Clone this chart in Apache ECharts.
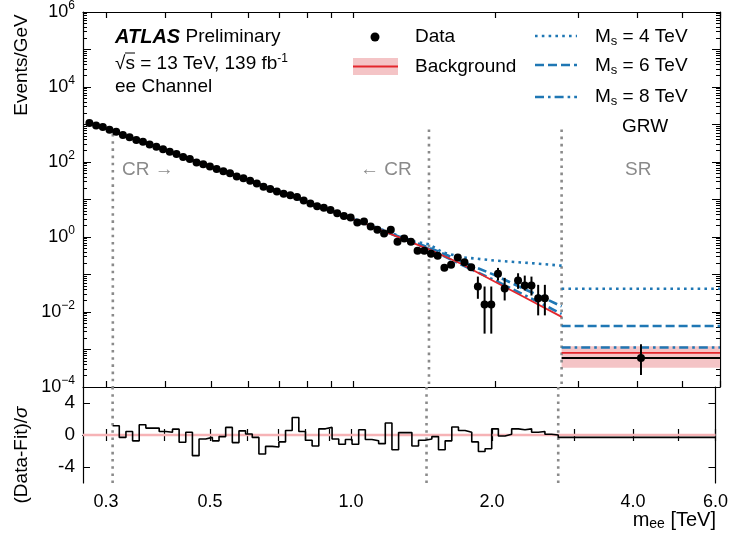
<!DOCTYPE html>
<html>
<head>
<meta charset="utf-8">
<title>ee Channel</title>
<script src="https://cdn.jsdelivr.net/npm/echarts@6/dist/echarts.min.js"></script>
<style>
html, body { margin: 0; padding: 0; background: #fff; }
#main { width: 731px; height: 536px; }
</style>
</head>
<body>
<div id="main"></div>
<script>
// bin centres in TeV (4 bins below the CR, then CR + VR bins)
var binMass = [0.2765, 0.2857, 0.2952, 0.3050,
  0.3151, 0.3256, 0.3364, 0.3476, 0.3591, 0.3710, 0.3834, 0.3961, 0.4093, 0.4229,
  0.4369, 0.4514, 0.4664, 0.4819, 0.4979, 0.5145, 0.5316, 0.5492, 0.5675, 0.5863,
  0.6058, 0.6259, 0.6467, 0.6682, 0.6904, 0.7134, 0.7371, 0.7616, 0.7869, 0.8130,
  0.8400, 0.8680, 0.8968, 0.9266, 0.9574, 0.9892, 1.0221, 1.0560, 1.0911, 1.1274,
  1.1648, 1.2035, 1.2435, 1.2848, 1.3275, 1.3716, 1.4172, 1.4643, 1.5130, 1.5633,
  1.6152, 1.6689, 1.7243, 1.7816, 1.8408, 1.9020, 1.9652, 2.0305, 2.0980, 2.1677,
  2.2397, 2.3141, 2.3910, 2.4705, 2.5526, 2.6374, 2.7250];
// events / GeV
var dataVals = [1089, 946, 853, 728,
  640, 522, 458, 386, 345, 295, 254, 218, 188, 164,
  135, 120, 96.5, 87.5, 75.8, 64.6, 56.5, 50.2, 41.3, 37.0,
  31.5, 26.7, 21.8, 19.1, 16.3, 14.3, 12.9, 11.6, 9.45, 7.87,
  6.58, 6.05, 5.26, 4.28, 3.65, 3.29, 2.43, 2.58, 1.90, 1.55,
  1.24, 1.55, 0.746, 0.912, 0.746, 0.431, 0.431, 0.358, 0.317, 0.152,
  0.183, 0.286, 0.211, 0.155, 0.0478, 0.0159, 0.0159, 0.104, 0.0423, null,
  0.0689, 0.0508, 0.0508, 0.0234, 0.0234, null, null];
// (Data-Fit)/sigma for the CR + VR bins
var ratioVals = [1.16, -0.3, 0.43, -0.73, 1.29, 0.86, 0.86, 0.43, 0.34, 0.73,
  -0.9, 0.34, -2.58, -0.5, -0.3, -0.73, -0.2, 0.95, -0.95, 0.52,
  0.13, -0.3, -2.37, -1.42, -1.5, -0.86, 0.56, 2.19, 0.43, -0.65,
  -1.38, 0.77, 0.95, -0.5, -1.16, -0.56, -1.16, 0.65, -0.56, -0.73,
  -1.08, 1.5, -1.85, 0.3, 0.3, -1.38, -0.65, -0.5, -0.2, -1.85,
  -0.73, 1.0, 0.56, 0.34, -0.86, -2.06, -1.72, 0.77, -0.13, 0.09,
  0.77, 0.65, 0.77, 0.34, 0.43, 0.09, 0.0];

// visible error bars in the tail
var errMass = [1.8408, 1.9020, 1.9652, 2.0305, 2.0980, 2.2397, 2.3141, 2.3910, 2.4705, 2.5526];
var errLo = [0.0225, 0.00265, 0.00265, 0.0689, 0.0203, 0.0415, 0.0374, 0.0275, 0.00813, 0.00813];
var errHi = [0.0879, 0.0478, 0.0478, 0.150, 0.0813, 0.108, 0.0935, 0.0879, 0.053, 0.053];

// background fit
var bkgMass = [0.31, 0.40, 0.50, 0.60, 0.75, 0.90, 1.10, 1.30, 1.45, 1.70, 2.00, 2.30, 2.77];
var bkgVals = [656, 207, 75.3, 32.7, 11.6, 5.01, 1.89, 0.817, 0.47, 0.190, 0.0638, 0.0254, 0.00743];
// GRW signal + background
var sig4Mass = [0.31, 0.50, 0.75, 1.00, 1.20, 1.35, 1.45, 1.55, 1.70, 2.00, 2.40, 2.77];
var sig4Vals = [656, 75.5, 11.7, 3.15, 1.30, 0.76, 0.64, 0.39, 0.29, 0.235, 0.20, 0.172];
var sig6Mass = [0.31, 0.50, 0.75, 1.00, 1.20, 1.45, 1.60, 1.80, 2.00, 2.30, 2.55, 2.77];
var sig6Vals = [656, 75.4, 11.65, 3.05, 1.25, 0.52, 0.31, 0.166, 0.096, 0.042, 0.0231, 0.0141];
var sig8Mass = [0.31, 0.50, 0.75, 1.00, 1.20, 1.45, 1.80, 2.00, 2.30, 2.77];
var sig8Vals = [656, 75.3, 11.6, 3.03, 1.23, 0.48, 0.129, 0.070, 0.0292, 0.0089];

// signal region: one bin
var srEdges = [2.77, 6.0];
var srDataMass = 4.08, srData = 0.000589, srDataLo = 0.000209, srDataHi = 0.00138;
var srBkg = 0.000813, srBandLo = 0.000325, srBandHi = 0.00122;
var srSig = [0.0415, 0.00423, 0.00113];
var srRatio = -0.3;

// region boundaries and axis ticks
var regionEdges = [0.31, 1.45, 2.77];
var regionTops = [560, 740, 740];
var xLabelVals = [0.3, 0.5, 1.0, 2.0, 4.0, 6.0];
var xTickVals = [0.3, 0.4, 0.5, 0.6, 0.7, 0.8, 0.9, 1, 2, 3, 4, 5, 6];
var yLabelVals = [1e-4, 1e-2, 1, 1e2, 1e4, 1e6];
var ratioTicks = [-4, 0, 4];

var FONT = 'Liberation Sans, Arial, sans-serif';
var BLUE = '#1f77b4', RED = '#e3262c', PINK = '#f4c4c6', GREY = '#8a8a8a';

var yDecades = [], yMinor = [];
for (var e = -4; e <= 6; e++) {
  yDecades.push(Math.pow(10, e));
  if (e < 6) for (var m = 2; m <= 9; m++) yMinor.push(m * Math.pow(10, e));
}

function pairs(xs, ys) {
  var out = [];
  for (var i = 0; i < xs.length; i++) if (ys[i] != null) out.push([xs[i], ys[i]]);
  return out;
}

// step histogram for the ratio panel
var ratioEdges = [regionEdges[0]];
var crMass = binMass.slice(4);
for (var i = 0; i < crMass.length - 1; i++) ratioEdges.push(Math.sqrt(crMass[i] * crMass[i + 1]));
var ratioStep = [];
for (var i = 0; i < ratioVals.length; i++) ratioStep.push([ratioEdges[i], ratioVals[i]]);
ratioStep.push([srEdges[0], srRatio], [srEdges[1], srRatio]);

var errData = [];
for (var i = 0; i < errMass.length; i++) errData.push([errMass[i], errLo[i], errHi[i]]);
errData.push([srDataMass, srDataLo, srDataHi]);

function logXAxis(grid, pos, labels) {
  return {
    gridIndex: grid, type: 'log', logBase: 10, min: 0.268, max: 6.0, position: pos,
    axisLine: { lineStyle: { color: '#000', width: 1.2 } },
    axisTick: { inside: true, length: 6, customValues: xTickVals, lineStyle: { color: '#000', width: 1.2 } },
    axisLabel: labels ? {
      customValues: xLabelVals, color: '#000', fontSize: 18, fontFamily: FONT, margin: 10,
      formatter: function (v) { return Number(v).toFixed(1); }
    } : { show: false },
    splitLine: { show: false }
  };
}
function logYAxis(pos, ticks, len, line, labels) {
  return {
    gridIndex: 0, type: 'log', logBase: 10, min: 1e-4, max: 1e6, position: pos,
    axisLine: { show: line, lineStyle: { color: '#000', width: 1.2 } },
    axisTick: { inside: true, length: len, customValues: ticks, lineStyle: { color: '#000', width: 1 } },
    axisLabel: labels ? {
      customValues: yLabelVals, color: '#000', margin: 8,
      formatter: function (v) {
        var p = Math.round(Math.log10(v));
        return '{b|10}{s|' + (p < 0 ? '\u2212' + (-p) : p) + '}';
      },
      rich: {
        b: { fontSize: 18, fontFamily: FONT, color: '#000' },
        s: { fontSize: 12, fontFamily: FONT, color: '#000', padding: [0, 0, 12, 0] }
      }
    } : { show: false },
    splitLine: { show: false }
  };
}
function ratioYAxis(pos, labels) {
  return {
    gridIndex: 1, type: 'value', min: -6, max: 6, position: pos,
    axisLine: { lineStyle: { color: '#000', width: 1.2 } },
    axisTick: { inside: true, length: 7, customValues: ratioTicks, lineStyle: { color: '#000' } },
    axisLabel: labels ? { customValues: ratioTicks, color: '#000', fontSize: 19, fontFamily: FONT, margin: 8 } : { show: false },
    splitLine: { show: false }
  };
}

function errRender(params, api) {
  var a = api.coord([api.value(0), api.value(1)]);
  var b = api.coord([api.value(0), api.value(2)]);
  return { type: 'line', shape: { x1: a[0], y1: a[1], x2: b[0], y2: b[1] }, style: { stroke: '#000', lineWidth: 2 } };
}
function bandRender(params, api) {
  var a = api.coord([api.value(0), api.value(3)]);
  var b = api.coord([api.value(1), api.value(2)]);
  return { type: 'rect', shape: { x: a[0], y: a[1], width: b[0] - a[0], height: b[1] - a[1] }, style: { fill: PINK } };
}

function sigLine(name, xs, ys, srVal, dash) {
  var st = { color: BLUE, width: 2.6, type: dash, cap: 'butt' };
  return [{
    name: name, type: 'line', xAxisIndex: 0, yAxisIndex: 0, data: pairs(xs, ys),
    showSymbol: false, lineStyle: st, z: 3
  }, {
    name: name + ' SR', type: 'line', xAxisIndex: 0, yAxisIndex: 0, data: [[srEdges[0], srVal], [srEdges[1], srVal]],
    showSymbol: false, lineStyle: st, z: 3
  }];
}

var series = [];
// SR background band
series.push({ type: 'custom', xAxisIndex: 0, yAxisIndex: 0, renderItem: bandRender,
  data: [[srEdges[0], srEdges[1], srBandLo, srBandHi]], encode: { x: [0, 1], y: [2, 3] }, z: 1 });
// region boundaries
for (var i = 0; i < regionEdges.length; i++) {
  series.push({ type: 'line', xAxisIndex: 0, yAxisIndex: 0, showSymbol: false, z: 2,
    data: [[regionEdges[i], regionTops[i]], [regionEdges[i], 1e-4]],
    lineStyle: { color: GREY, width: 2.6, type: [2.6, 4.6] } });
  series.push({ type: 'line', xAxisIndex: 2, yAxisIndex: 4, showSymbol: false, z: 2,
    data: [[regionEdges[i], 6], [regionEdges[i], -6]],
    lineStyle: { color: GREY, width: 2.6, type: [2.6, 4.6] } });
}
series = series.concat(sigLine('Ms4', sig4Mass, sig4Vals, srSig[0], [2.6, 4.2]));
series = series.concat(sigLine('Ms6', sig6Mass, sig6Vals, srSig[1], [9, 4]));
series = series.concat(sigLine('Ms8', sig8Mass, sig8Vals, srSig[2], [9, 4, 2.6, 4]));
// background
series.push({ type: 'line', xAxisIndex: 0, yAxisIndex: 0, data: pairs(bkgMass, bkgVals), showSymbol: false,
  lineStyle: { color: RED, width: 1.8 }, z: 4 });
series.push({ type: 'line', xAxisIndex: 0, yAxisIndex: 0, data: [[srEdges[0], srBkg], [srEdges[1], srBkg]], showSymbol: false,
  lineStyle: { color: RED, width: 1.8 }, z: 4 });
// data
series.push({ type: 'line', xAxisIndex: 0, yAxisIndex: 0, data: [[srEdges[0], srData], [srEdges[1], srData]], showSymbol: false,
  lineStyle: { color: '#000', width: 2 }, z: 5 });
series.push({ type: 'custom', xAxisIndex: 0, yAxisIndex: 0, renderItem: errRender, data: errData,
  encode: { x: 0, y: [1, 2] }, z: 5 });
series.push({ type: 'scatter', xAxisIndex: 0, yAxisIndex: 0, symbolSize: 8,
  data: pairs(binMass, dataVals).concat([[srDataMass, srData]]), itemStyle: { color: '#000', opacity: 1 }, z: 6 });
// ratio panel
series.push({ type: 'line', xAxisIndex: 2, yAxisIndex: 4, data: [[0.268, 0], [6.0, 0]], showSymbol: false,
  lineStyle: { color: '#f6b3b6', width: 2.5 }, z: 2 });
series.push({ type: 'line', xAxisIndex: 2, yAxisIndex: 4, data: ratioStep, step: 'end', showSymbol: false,
  lineStyle: { color: '#000', width: 1.6 }, z: 5 });

function txt(x, y, text, extra) {
  var st = { text: text, x: x, y: y, font: '19px ' + FONT, fill: '#000', verticalAlign: 'middle' };
  for (var k in extra) st[k] = extra[k];
  return { type: 'text', style: st, z: 100 };
}
function legLine(y, dash) {
  return { type: 'line', shape: { x1: 535, y1: y, x2: 577, y2: y }, style: { stroke: BLUE, lineWidth: 2.6, lineDash: dash }, z: 100 };
}
var msRich = { n: { fontSize: 19, fontFamily: FONT }, s: { fontSize: 13, fontFamily: FONT, padding: [8, 0, 0, 0] } };

var option = {
  animation: false,
  backgroundColor: '#fff',
  grid: [
    { left: 83, right: 11, top: 10, height: 377 },
    { left: 83, right: 11, top: 387, height: 96 }
  ],
  xAxis: [logXAxis(0, 'bottom', false), logXAxis(0, 'top', false), logXAxis(1, 'bottom', true), logXAxis(1, 'top', false)],
  yAxis: [
    logYAxis('left', yDecades, 8, true, true),
    logYAxis('left', yMinor, 4, false, false),
    logYAxis('right', yDecades, 8, true, false),
    logYAxis('right', yMinor, 4, false, false),
    ratioYAxis('left', true),
    ratioYAxis('right', false)
  ],
  series: series,
  graphic: [
    txt(115, 37, '{b|ATLAS} {n|Preliminary}', { rich: {
      b: { fontSize: 20, fontWeight: 'bold', fontStyle: 'italic', fontFamily: FONT },
      n: { fontSize: 19, fontFamily: FONT } } }),
    txt(115, 64, '{n|\u221As = 13 TeV, 139 fb}{s|-1}', { rich: {
      n: { fontSize: 19, fontFamily: FONT }, s: { fontSize: 12, fontFamily: FONT, padding: [0, 0, 10, 0] } } }),
    { type: 'line', shape: { x1: 125, y1: 53, x2: 135, y2: 53 }, style: { stroke: '#000', lineWidth: 1 }, z: 100 },
    txt(115, 87, 'ee Channel'),
    { type: 'circle', shape: { cx: 375, cy: 37, r: 4.5 }, style: { fill: '#000' }, z: 100 },
    txt(415, 37, 'Data'),
    { type: 'rect', shape: { x: 353, y: 58, width: 45, height: 17 }, style: { fill: PINK }, z: 100 },
    { type: 'line', shape: { x1: 353, y1: 66.5, x2: 398, y2: 66.5 }, style: { stroke: RED, lineWidth: 1.8 }, z: 100 },
    txt(415, 67, 'Background'),
    legLine(36, [2.6, 4.2]), legLine(65, [9, 4]), legLine(97, [9, 4, 2.6, 4]),
    txt(595, 37, '{n|M}{s|s}{n| = 4 TeV}', { rich: msRich }),
    txt(595, 66, '{n|M}{s|s}{n| = 6 TeV}', { rich: msRich }),
    txt(595, 97, '{n|M}{s|s}{n| = 8 TeV}', { rich: msRich }),
    txt(622, 127, 'GRW'),
    txt(122, 170, 'CR \u2192', { fill: GREY }),
    txt(360, 170, '\u2190 CR', { fill: GREY }),
    txt(625, 170, 'SR', { fill: GREY }),
    { type: 'text', x: 22, y: 65, rotation: Math.PI / 2, z: 100,
      style: { text: 'Events/GeV', font: '19px ' + FONT, fill: '#000', align: 'center', verticalAlign: 'middle' } },
    { type: 'text', x: 22, y: 455, rotation: Math.PI / 2, z: 100,
      style: { text: '{n|(Data-Fit)/}{i|\u03c3}', align: 'center', verticalAlign: 'middle',
        rich: { n: { fontSize: 19, fontFamily: FONT }, i: { fontSize: 19, fontFamily: FONT, fontStyle: 'italic' } } } },
    txt(716, 520, '{n|m}{s|ee}{n| [TeV]}', { align: 'right', rich: {
      n: { fontSize: 20, fontFamily: FONT }, s: { fontSize: 14, fontFamily: FONT, padding: [8, 0, 0, 0] } } })
  ]
};

var chart = echarts.init(document.getElementById('main'));
chart.setOption(option);
</script>
</body>
</html>
